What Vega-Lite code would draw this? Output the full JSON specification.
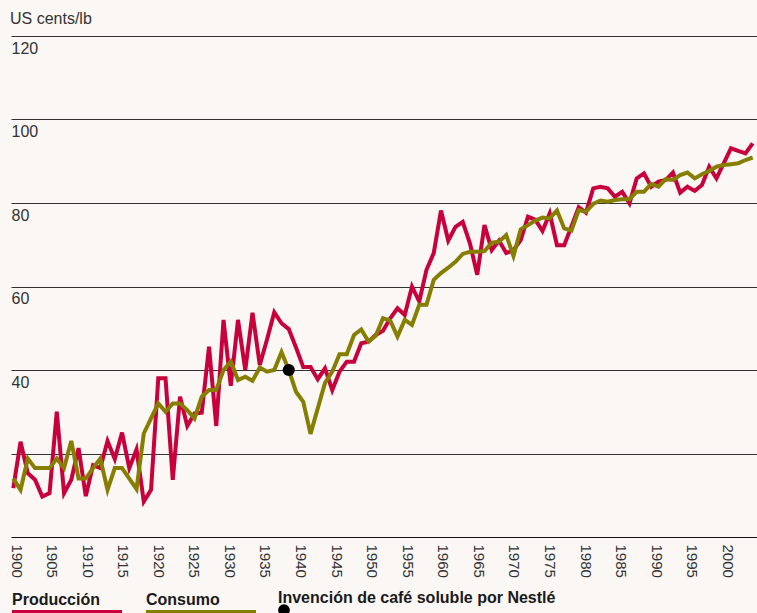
{
  "$schema": "https://vega.github.io/schema/vega-lite/v6.json",
  "width": 746,
  "height": 501,
  "autosize": {"type": "none"},
  "padding": {"left": 11, "top": 36, "right": 0, "bottom": 76},
  "background": "#faf7f4",
  "config": {
    "view": {"stroke": null},
    "font": "Liberation Sans"
  },
  "title": {
    "text": "US cents/lb",
    "anchor": "start",
    "frame": "group",
    "fontSize": 16,
    "fontWeight": "normal",
    "color": "#333333",
    "baseline": "alphabetic",
    "offset": -3.5,
    "dx": -1
  },
  "datasets": {
    "series": [
      {"year": 1900, "Producción": 11.7, "Consumo": 14.0},
      {"year": 1901, "Producción": 22.8, "Consumo": 11.3},
      {"year": 1902, "Producción": 15.3, "Consumo": 18.8},
      {"year": 1903, "Producción": 13.7, "Consumo": 16.5},
      {"year": 1904, "Producción": 9.7, "Consumo": 16.5},
      {"year": 1905, "Producción": 10.5, "Consumo": 16.5},
      {"year": 1906, "Producción": 30.0, "Consumo": 18.8},
      {"year": 1907, "Producción": 10.5, "Consumo": 16.5},
      {"year": 1908, "Producción": 13.7, "Consumo": 23.0},
      {"year": 1909, "Producción": 21.3, "Consumo": 14.0},
      {"year": 1910, "Producción": 9.8, "Consumo": 14.0},
      {"year": 1911, "Producción": 17.2, "Consumo": 16.5},
      {"year": 1912, "Producción": 16.5, "Consumo": 18.8},
      {"year": 1913, "Producción": 23.0, "Consumo": 11.3},
      {"year": 1914, "Producción": 18.7, "Consumo": 16.5},
      {"year": 1915, "Producción": 25.0, "Consumo": 16.5},
      {"year": 1916, "Producción": 16.5, "Consumo": 14.0},
      {"year": 1917, "Producción": 21.0, "Consumo": 11.5},
      {"year": 1918, "Producción": 8.5, "Consumo": 24.8},
      {"year": 1919, "Producción": 11.3, "Consumo": 28.4},
      {"year": 1920, "Producción": 38.0, "Consumo": 32.0},
      {"year": 1921, "Producción": 38.0, "Consumo": 30.0},
      {"year": 1922, "Producción": 13.7, "Consumo": 32.0},
      {"year": 1923, "Producción": 33.6, "Consumo": 32.0},
      {"year": 1924, "Producción": 26.6, "Consumo": 30.4},
      {"year": 1925, "Producción": 29.6, "Consumo": 28.4},
      {"year": 1926, "Producción": 29.8, "Consumo": 33.6},
      {"year": 1927, "Producción": 45.6, "Consumo": 35.2},
      {"year": 1928, "Producción": 26.6, "Consumo": 35.2},
      {"year": 1929, "Producción": 52.0, "Consumo": 40.0},
      {"year": 1930, "Producción": 36.2, "Consumo": 42.0},
      {"year": 1931, "Producción": 52.0, "Consumo": 37.6},
      {"year": 1932, "Producción": 40.0, "Consumo": 38.4},
      {"year": 1933, "Producción": 53.7, "Consumo": 37.4},
      {"year": 1934, "Producción": 41.2, "Consumo": 40.6},
      {"year": 1935, "Producción": 47.3, "Consumo": 39.6},
      {"year": 1936, "Producción": 53.8, "Consumo": 40.0},
      {"year": 1937, "Producción": 51.2, "Consumo": 44.3},
      {"year": 1938, "Producción": 49.8, "Consumo": 40.0},
      {"year": 1939, "Producción": 45.4, "Consumo": 34.8},
      {"year": 1940, "Producción": 40.7, "Consumo": 32.4},
      {"year": 1941, "Producción": 40.7, "Consumo": 24.7},
      {"year": 1942, "Producción": 37.8, "Consumo": 30.8},
      {"year": 1943, "Producción": 40.4, "Consumo": 36.9},
      {"year": 1944, "Producción": 35.2, "Consumo": 39.6},
      {"year": 1945, "Producción": 39.6, "Consumo": 43.8},
      {"year": 1946, "Producción": 42.0, "Consumo": 43.8},
      {"year": 1947, "Producción": 42.0, "Consumo": 48.4},
      {"year": 1948, "Producción": 46.4, "Consumo": 49.7},
      {"year": 1949, "Producción": 46.8, "Consumo": 46.8},
      {"year": 1950, "Producción": 48.4, "Consumo": 48.2},
      {"year": 1951, "Producción": 49.4, "Consumo": 52.4},
      {"year": 1952, "Producción": 52.4, "Consumo": 51.8},
      {"year": 1953, "Producción": 54.8, "Consumo": 48.0},
      {"year": 1954, "Producción": 53.2, "Consumo": 52.0},
      {"year": 1955, "Producción": 60.0, "Consumo": 50.8},
      {"year": 1956, "Producción": 56.4, "Consumo": 55.6},
      {"year": 1957, "Producción": 64.0, "Consumo": 55.6},
      {"year": 1958, "Producción": 68.0, "Consumo": 61.6},
      {"year": 1959, "Producción": 78.2, "Consumo": 63.2},
      {"year": 1960, "Producción": 71.0, "Consumo": 64.5},
      {"year": 1961, "Producción": 74.3, "Consumo": 65.9},
      {"year": 1962, "Producción": 75.5, "Consumo": 67.8},
      {"year": 1963, "Producción": 70.3, "Consumo": 68.3},
      {"year": 1964, "Producción": 62.8, "Consumo": 68.3},
      {"year": 1965, "Producción": 74.7, "Consumo": 68.5},
      {"year": 1966, "Producción": 68.7, "Consumo": 70.5},
      {"year": 1967, "Producción": 71.0, "Consumo": 70.7},
      {"year": 1968, "Producción": 68.0, "Consumo": 72.3},
      {"year": 1969, "Producción": 68.7, "Consumo": 67.3},
      {"year": 1970, "Producción": 71.1, "Consumo": 73.7},
      {"year": 1971, "Producción": 76.7, "Consumo": 74.7},
      {"year": 1972, "Producción": 76.0, "Consumo": 75.8},
      {"year": 1973, "Producción": 73.3, "Consumo": 76.5},
      {"year": 1974, "Producción": 77.5, "Consumo": 76.3},
      {"year": 1975, "Producción": 69.9, "Consumo": 78.2},
      {"year": 1976, "Producción": 69.9, "Consumo": 73.9},
      {"year": 1977, "Producción": 74.4, "Consumo": 73.4},
      {"year": 1978, "Producción": 79.0, "Consumo": 78.3},
      {"year": 1979, "Producción": 77.7, "Consumo": 77.9},
      {"year": 1980, "Producción": 83.5, "Consumo": 79.8},
      {"year": 1981, "Producción": 83.9, "Consumo": 80.6},
      {"year": 1982, "Producción": 83.5, "Consumo": 80.3},
      {"year": 1983, "Producción": 81.5, "Consumo": 80.7},
      {"year": 1984, "Producción": 82.7, "Consumo": 80.9},
      {"year": 1985, "Producción": 79.9, "Consumo": 80.9},
      {"year": 1986, "Producción": 85.9, "Consumo": 82.7},
      {"year": 1987, "Producción": 87.1, "Consumo": 82.7},
      {"year": 1988, "Producción": 83.9, "Consumo": 84.6},
      {"year": 1989, "Producción": 85.1, "Consumo": 83.9},
      {"year": 1990, "Producción": 85.5, "Consumo": 85.7},
      {"year": 1991, "Producción": 87.3, "Consumo": 85.5},
      {"year": 1992, "Producción": 82.5, "Consumo": 86.7},
      {"year": 1993, "Producción": 83.9, "Consumo": 87.3},
      {"year": 1994, "Producción": 82.9, "Consumo": 85.9},
      {"year": 1995, "Producción": 84.3, "Consumo": 86.9},
      {"year": 1996, "Producción": 88.7, "Consumo": 87.7},
      {"year": 1997, "Producción": 85.9, "Consumo": 88.7},
      {"year": 1998, "Producción": 89.5, "Consumo": 89.1},
      {"year": 1999, "Producción": 93.1, "Consumo": 89.3},
      {"year": 2000, "Producción": 92.5, "Consumo": 89.5},
      {"year": 2001, "Producción": 91.9, "Consumo": 90.3},
      {"year": 2002, "Producción": 94.3, "Consumo": 90.9}
    ],
    "evento": [
      {"year": 1938, "value": 40.0, "serie": "Invención de café soluble por Nestlé"}
    ]
  },
  "layer": [
    {
      "data": {"name": "series"},
      "transform": [{"fold": ["Producción", "Consumo"], "as": ["serie", "value"]}],
      "mark": {"type": "line", "strokeWidth": 4, "strokeJoin": "miter"},
      "encoding": {
        "x": {
          "field": "year", "type": "quantitative",
          "scale": {"domain": [1899.683, 2002.594], "nice": false, "zero": false},
          "axis": null
        },
        "y": {
          "field": "value", "type": "quantitative",
          "scale": {"domain": [0, 120], "nice": false},
          "axis": {
            "values": [20, 40, 60, 80, 100, 120],
            "grid": true, "gridColor": "#333333", "gridWidth": 1.2,
            "domain": false, "ticks": false, "tickSize": 0,
            "labelAlign": "left", "labelBaseline": "alphabetic",
            "labelOffset": 17, "labelPadding": 0,
            "labelFontSize": 16, "labelColor": "#333333",
            "labelFlush": false, "labelOverlap": false,
            "labelExpr": "datum.value >= 40 ? datum.label : ''",
            "title": null
          }
        },
        "color": {
          "field": "serie", "type": "nominal",
          "scale": {
            "domain": ["Producción", "Consumo", "Invención de café soluble por Nestlé"],
            "range": ["#c8003c", "#867e00", "#000000"]
          },
          "legend": {
            "title": null,
            "orient": "none",
            "legendX": 1,
            "legendY": 517,
            "direction": "horizontal",
            "symbolType": "stroke",
            "symbolSize": 12100,
            "symbolStrokeWidth": 4,
            "symbolOffset": -2,
            "labelOffset": -114,
            "labelFontSize": 16,
            "labelFontWeight": "bold",
            "labelColor": "#1a1a1a",
            "labelBaseline": "alphabetic",
            "labelLimit": 400,
            "columnPadding": 8,
            "padding": 0,
            "encode": {
              "labels": {
                "update": {
                  "x": {"value": 0},
                  "y": {"value": 57},
                  "dy": {"value": -7.5}
                }
              },
              "symbols": {
                "update": {
                  "shape": {"signal": "datum.value === 'Invención de café soluble por Nestlé' ? 'circle' : 'stroke'"},
                  "size": {"signal": "datum.value === 'Invención de café soluble por Nestlé' ? 60 : 12100"},
                  "x": {"signal": "datum.value === 'Invención de café soluble por Nestlé' ? 6 : 55"},
                  "y": {"value": 57},
                  "fill": {"value": "#000000"}
                }
              }
            }
          }
        }
      }
    },
    {
      "data": {"name": "evento"},
      "mark": {"type": "point", "filled": true, "size": 150, "opacity": 1},
      "encoding": {
        "x": {
          "field": "year", "type": "quantitative",
          "scale": {"domain": [1899.683, 2002.594], "nice": false, "zero": false},
          "axis": null
        },
        "y": {
          "field": "value", "type": "quantitative",
          "scale": {"domain": [0, 120], "nice": false},
          "axis": {
            "values": [20, 40, 60, 80, 100, 120],
            "grid": true, "gridColor": "#333333", "gridWidth": 1.2,
            "domain": false, "ticks": false, "tickSize": 0,
            "labelAlign": "left", "labelBaseline": "alphabetic",
            "labelOffset": 17, "labelPadding": 0,
            "labelFontSize": 16, "labelColor": "#333333",
            "labelFlush": false, "labelOverlap": false,
            "labelExpr": "datum.value >= 40 ? datum.label : ''",
            "title": null
          }
        },
        "color": {"field": "serie", "type": "nominal"}
      }
    },
    {
      "data": {"values": [{}]},
      "mark": {"type": "rule", "opacity": 0},
      "encoding": {
        "x": {
          "datum": 1950, "type": "quantitative",
          "scale": {"domain": [1899.297, 2004.16], "nice": false, "zero": false},
          "axis": {
            "values": [1900, 1905, 1910, 1915, 1920, 1925, 1930, 1935, 1940, 1945, 1950, 1955, 1960, 1965, 1970, 1975, 1980, 1985, 1990, 1995, 2000],
            "format": "d",
            "labelAngle": 90,
            "ticks": false, "tickSize": 0,
            "grid": false,
            "domain": true, "domainColor": "#111111", "domainWidth": 1,
            "labelPadding": 7,
            "labelFontSize": 15, "labelColor": "#333333",
            "labelFlush": false, "labelOverlap": false,
            "title": null
          }
        }
      }
    }
  ],
  "resolve": {"scale": {"x": "independent"}, "axis": {"x": "independent"}}
}
